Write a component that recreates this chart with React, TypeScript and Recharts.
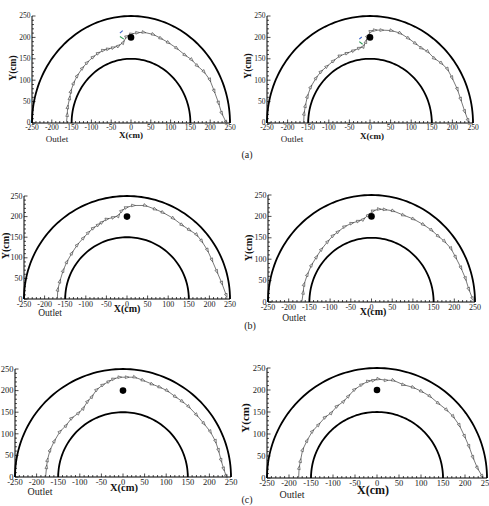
import React from 'react'
import { Scatter, ScatterChart, XAxis, YAxis } from 'recharts'

type Pt = [number, number]

// duct walls (cm)
const OUTER_R = 250
const INNER_R = 150
const cylinder: Pt[] = [[0, 200]]

const xTicks = [
  -250, -240, -230, -220, -210, -200, -190, -180, -170, -160, -150, -140, -130, -120, -110, -100,
  -90, -80, -70, -60, -50, -40, -30, -20, -10, 0, 10, 20, 30, 40, 50, 60, 70, 80, 90, 100, 110,
  120, 130, 140, 150, 160, 170, 180, 190, 200, 210, 220, 230, 240, 250,
]
const yTicks = [
  0, 10, 20, 30, 40, 50, 60, 70, 80, 90, 100, 110, 120, 130, 140, 150, 160, 170, 180, 190, 200,
  210, 220, 230, 240, 250,
]

// trajectories
const trajA1: Pt[] = [
  [-163, 0], [-161, 19], [-160, 37], [-155, 58], [-152, 74], [-145, 93], [-136, 110], [-123, 128],
  [-111, 141], [-96, 154], [-83, 163], [-70, 170], [-58, 173], [-45, 176], [-32, 180], [-20, 188],
  [-11, 202], [1, 208], [16, 211], [32, 212], [56, 207], [75, 198], [94, 188], [115, 175],
  [136, 159], [153, 148], [167, 134], [184, 120], [199, 101], [210, 75], [221, 47], [229, 23],
  [240, 2],
]
const trajA2: Pt[] = [
  [-161, 0], [-160, 22], [-157, 40], [-152, 62], [-144, 84], [-131, 105], [-119, 120], [-105, 132],
  [-89, 145], [-73, 157], [-56, 163], [-40, 169], [-26, 175], [-16, 179], [-10, 190], [-6, 203],
  [2, 214], [12, 217], [28, 217], [52, 216], [73, 210], [93, 198], [110, 186], [125, 175],
  [140, 167], [156, 151], [173, 140], [188, 126], [199, 106], [212, 79], [220, 56], [230, 27],
  [238, 6],
]
const trajB1: Pt[] = [
  [-169, 2], [-168, 23], [-163, 43], [-155, 69], [-146, 90], [-134, 111], [-121, 131], [-106, 148],
  [-94, 161], [-82, 172], [-70, 180], [-61, 186], [-49, 194], [-33, 198], [-21, 202], [-13, 214],
  [-2, 222], [15, 227], [44, 227], [68, 218], [87, 210], [112, 196], [133, 180], [151, 168],
  [169, 156], [181, 141], [195, 119], [206, 95], [218, 67], [230, 39], [241, 9],
]
const trajB2: Pt[] = [
  [-168, 2], [-165, 22], [-163, 41], [-155, 64], [-145, 86], [-133, 105], [-121, 123], [-106, 141],
  [-93, 155], [-81, 164], [-65, 176], [-48, 184], [-32, 189], [-20, 193], [-8, 203], [4, 213],
  [18, 217], [32, 216], [52, 213], [77, 203], [101, 194], [125, 181], [145, 168], [161, 154],
  [176, 142], [192, 125], [203, 105], [216, 80], [227, 55], [235, 30], [244, 8],
]
const trajC1: Pt[] = [
  [-179, 2], [-177, 23], [-175, 39], [-169, 62], [-159, 83], [-146, 105], [-132, 119], [-119, 136],
  [-103, 148], [-92, 159], [-82, 175], [-72, 186], [-61, 202], [-47, 213], [-33, 221], [-22, 227],
  [-8, 231], [9, 231], [27, 231], [46, 224], [67, 215], [85, 208], [102, 200], [121, 186],
  [137, 175], [152, 163], [170, 144], [187, 124], [202, 105], [214, 83], [221, 62], [227, 39],
  [233, 19], [239, 2],
]
const trajC2: Pt[] = [
  [-178, 2], [-177, 23], [-174, 39], [-169, 64], [-159, 85], [-147, 106], [-133, 121], [-118, 138],
  [-104, 148], [-91, 163], [-76, 174], [-65, 186], [-51, 201], [-35, 212], [-20, 220], [-8, 222],
  [3, 225], [20, 222], [37, 222], [60, 212], [82, 206], [101, 197], [120, 186], [139, 170],
  [158, 155], [173, 140], [187, 120], [199, 95], [209, 72], [218, 47], [228, 23], [239, 4],
]

// small blue / green velocity marks in (a)
const blueA1: Pt[] = [[-28, 210], [-21, 216]]
const greenA1: Pt[] = [[-28, 202], [-18, 196]]
const blueA2: Pt[] = [[-26, 196], [-20, 201]]
const greenA2: Pt[] = [[-26, 190], [-18, 184]]

const toRows = (pts: Pt[]) => pts.map(([x, y]) => ({ x, y }))

const arc = (r: number) => {
  const rows = []
  for (let a = 180; a >= 0; a -= 2) {
    const t = (a * Math.PI) / 180
    rows.push({ x: r * Math.cos(t), y: r * Math.sin(t) })
  }
  return rows
}

const withHeading = (pts: Pt[]) =>
  pts.map(([x, y], i) => {
    const [ax, ay] = i < pts.length - 1 ? pts[i] : pts[i - 1]
    const [bx, by] = i < pts.length - 1 ? pts[i + 1] : pts[i]
    return { x, y, i, ang: (Math.atan2(-(by - ay), bx - ax) * 180) / Math.PI }
  })

const outerArc = arc(OUTER_R)
const innerArc = arc(INNER_R)

const ML = 30
const MR = 14
const MT = 10
const MB = 22

const noShape = () => <g />

const Arrow = (props: any) => {
  const { cx, cy, payload } = props
  if (payload.i === 0) return <g />
  return (
    <polygon
      points="2.2,0 -1.6,-1.4 -1.6,1.4"
      transform={`translate(${cx},${cy}) rotate(${payload.ang})`}
      fill="#ddd"
      stroke="#333"
      strokeWidth={0.5}
    />
  )
}

const Dot = (props: any) => <circle cx={props.cx} cy={props.cy} r={3.3} fill="#000" />

const XTick = (props: any) => {
  const { x, y, payload, fs } = props
  const v = payload.value
  const major = v % 50 === 0
  return (
    <g>
      <line x1={x} x2={x} y1={y} y2={y - (major ? 3.5 : 2)} stroke="#000" strokeWidth={0.7} />
      {major && (
        <text x={x} y={y + fs * 0.95} textAnchor="middle" fontSize={fs} fontFamily="Liberation Serif" fill="#222">
          {v}
        </text>
      )}
    </g>
  )
}

const YTick = (props: any) => {
  const { x, y, payload, fs } = props
  const v = payload.value
  const major = v % 50 === 0
  return (
    <g>
      <line x1={x} x2={x + (major ? 3.5 : 2)} y1={y} y2={y} stroke="#000" strokeWidth={0.7} />
      {major && (
        <text x={x - 1.5} y={y + fs * 0.33} textAnchor="end" fontSize={fs} fontFamily="Liberation Serif" fill="#222">
          {v}
        </text>
      )}
    </g>
  )
}

type PanelCfg = {
  x0: number
  x1: number
  yTop: number
  yBot: number
  fs: number
  traj: Pt[]
  blue?: Pt[]
  green?: Pt[]
}

const panels: PanelCfg[] = [
  { x0: 32, x1: 230, yTop: 16, yBot: 123, fs: 7.5, traj: trajA1, blue: blueA1, green: greenA1 },
  { x0: 267, x1: 473, yTop: 16, yBot: 123, fs: 7.5, traj: trajA2, blue: blueA2, green: greenA2 },
  { x0: 24, x1: 230, yTop: 196, yBot: 299, fs: 8, traj: trajB1 },
  { x0: 268, x1: 475, yTop: 195, yBot: 302, fs: 8, traj: trajB2 },
  { x0: 15, x1: 231, yTop: 369, yBot: 477, fs: 8.5, traj: trajC1 },
  { x0: 267, x1: 487, yTop: 368, yBot: 478, fs: 8.5, traj: trajC2 },
]

const Panel = ({ cfg }: { cfg: PanelCfg }) => {
  const { x0, x1, yTop, yBot, fs, traj, blue, green } = cfg
  return (
    <div style={{ position: 'absolute', left: x0 - ML, top: yTop - MT }}>
      <ScatterChart
        width={x1 - x0 + ML + MR}
        height={yBot - yTop + MT + MB}
        margin={{ top: MT, right: MR, bottom: 0, left: 0 }}
      >
        <XAxis
          type="number"
          dataKey="x"
          domain={[-250, 250]}
          ticks={xTicks}
          interval={0}
          height={MB}
          tickSize={0}
          tickMargin={0}
          tickLine={false}
          stroke="#000"
          tick={(p: any) => <XTick {...p} fs={fs} />}
        />
        <YAxis
          type="number"
          dataKey="y"
          domain={[0, 250]}
          ticks={yTicks}
          interval={0}
          width={ML}
          tickSize={0}
          tickMargin={0}
          tickLine={false}
          stroke="#000"
          tick={(p: any) => <YTick {...p} fs={fs} />}
        />
        <Scatter data={outerArc} line={{ stroke: '#000', strokeWidth: 1.8 }} shape={noShape} isAnimationActive={false} />
        <Scatter data={innerArc} line={{ stroke: '#000', strokeWidth: 1.8 }} shape={noShape} isAnimationActive={false} />
        <Scatter data={withHeading(traj)} line={{ stroke: '#555', strokeWidth: 0.8 }} shape={Arrow} isAnimationActive={false} />
        {blue && (
          <Scatter data={toRows(blue)} line={{ stroke: '#3b62c9', strokeWidth: 1.1 }} shape={noShape} isAnimationActive={false} />
        )}
        {green && (
          <Scatter data={toRows(green)} line={{ stroke: '#2e9a55', strokeWidth: 1.1 }} shape={noShape} isAnimationActive={false} />
        )}
        <Scatter data={toRows(cylinder)} shape={Dot} isAnimationActive={false} />
      </ScatterChart>
    </div>
  )
}

const serif = 'Liberation Serif'

export default function App() {
  return (
    <div
      style={{
        position: 'absolute',
        left: 0,
        top: 0,
        width: 489,
        height: 506,
        overflow: 'hidden',
        background: '#fff',
      }}
    >
      {panels.map((p, i) => (
        <Panel key={i} cfg={p} />
      ))}
      <svg width={489} height={506} style={{ position: 'absolute', left: 0, top: 0, pointerEvents: 'none' }}>
        <g fontFamily={serif} fontWeight="bold" textAnchor="middle" fill="#111">
          <text x={131} y={138} fontSize={9}>X(cm)</text>
          <text x={372} y={139} fontSize={9}>X(cm)</text>
          <text x={127} y={312} fontSize={10}>X(cm)</text>
          <text x={373} y={315} fontSize={10}>X(cm)</text>
          <text x={124} y={491} fontSize={10.5}>X(cm)</text>
          <text x={373} y={494} fontSize={12}>X(cm)</text>
          <text transform="translate(16,68) rotate(-90)" fontSize={9.5}>Y(cm)</text>
          <text transform="translate(251,66) rotate(-90)" fontSize={9.5}>Y(cm)</text>
          <text transform="translate(9,246) rotate(-90)" fontSize={10}>Y(cm)</text>
          <text transform="translate(252,248) rotate(-90)" fontSize={10}>Y(cm)</text>
          <text transform="translate(249,418) rotate(-90)" fontSize={11}>Y(cm)</text>
        </g>
        <g fontFamily={serif} textAnchor="middle" fill="#222">
          <text x={57} y={142} fontSize={9}>Outlet</text>
          <text x={292} y={142} fontSize={9}>Outlet</text>
          <text x={50} y={316} fontSize={9.5}>Outlet</text>
          <text x={294} y={321} fontSize={9.5}>Outlet</text>
          <text x={40} y={495} fontSize={10}>Outlet</text>
          <text x={292} y={498} fontSize={10}>Outlet</text>
          <text x={247} y={158} fontSize={10}>(a)</text>
          <text x={250} y={329} fontSize={10}>(b)</text>
          <text x={247} y={503} fontSize={10}>(c)</text>
        </g>
      </svg>
    </div>
  )
}
